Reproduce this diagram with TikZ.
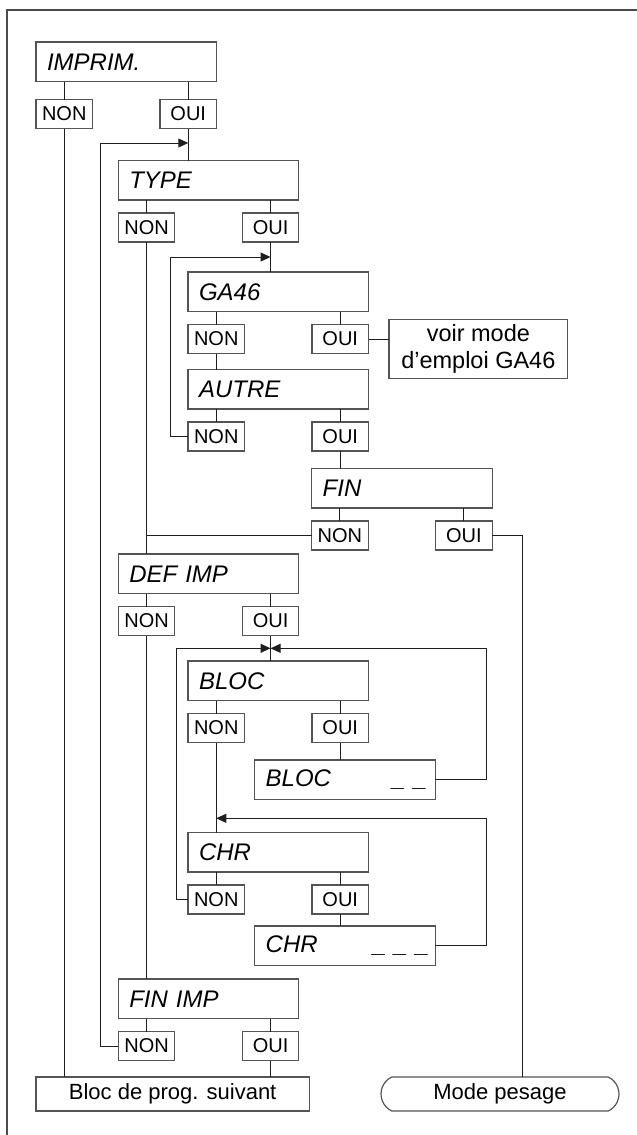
\documentclass[tikz,border=0pt]{standalone}
\usepackage{fontspec}
\setmainfont{Liberation Sans}
\usetikzlibrary{arrows.meta,shapes.misc}
\definecolor{boxc}{gray}{0.33}
\definecolor{linec}{gray}{0.12}
\definecolor{framec}{gray}{0.3}
\begin{document}
\begin{tikzpicture}[x=1pt,y=-1pt,
  box/.style={draw=boxc, line width=1.2pt, outer sep=0pt, anchor=north west},
  title/.style={box, minimum height=39.5pt, inner xsep=11pt, inner ysep=0pt, text width=158.5pt, align=left, font=\fontsize{24}{26}\selectfont\itshape},
  choice/.style={box, minimum width=56.5pt, minimum height=29pt, inner sep=0pt, font=\fontsize{20}{22}\selectfont},
  plain/.style={box, inner sep=0pt, align=center, font=\fontsize{22}{26}\selectfont},
  conn/.style={draw=linec, line width=1pt},
  arr/.style={conn, -{Triangle[length=10pt,width=9pt]}},
]
\useasboundingbox (0,0) rectangle (637,1135);
\draw[draw=framec, line width=1.5pt] (7,1135) -- (7,10) -- (637,10);

% title boxes
\node[title] (imprim) at (36,42) {IMPRIM.};
\node[title] (type) at (118.3,160.5) {TYPE};
\node[title] (ga46) at (188,272) {GA46};
\node[title] (autre) at (188,369.5) {AUTRE};
\node[title] (fin) at (311.7,468.5) {FIN};
\node[title] (defimp) at (118.3,554) {DEF IMP};
\node[title] (bloc) at (188,661) {BLOC};
\node[title] (blocv) at (254.7,760) {BLOC\hfill\_ \_\kern-3pt};
\node[title] (chr) at (188,832.5) {CHR};
\node[title] (chrv) at (254.7,926) {CHR\hfill\_ \_ \_\kern-5pt};
\node[title] (finimp) at (118.3,979) {FIN IMP};

% choice boxes
\node[choice] (imprimN) at ([yshift=-18pt]imprim.south west) {NON};
\node[choice, anchor=north east] (imprimO) at ([yshift=-18pt]imprim.south east) {OUI};
\node[choice] (typeN) at ([yshift=-13pt]type.south west) {NON};
\node[choice, anchor=north east] (typeO) at ([yshift=-13pt]type.south east) {OUI};
\node[choice] (ga46N) at ([yshift=-13pt]ga46.south west) {NON};
\node[choice, anchor=north east] (ga46O) at ([yshift=-13pt]ga46.south east) {OUI};
\node[choice] (autreN) at ([yshift=-13pt]autre.south west) {NON};
\node[choice, anchor=north east] (autreO) at ([yshift=-13pt]autre.south east) {OUI};
\node[choice] (finN) at ([yshift=-13pt]fin.south west) {NON};
\node[choice, anchor=north east] (finO) at ([yshift=-13pt]fin.south east) {OUI};
\node[choice] (defimpN) at ([yshift=-13pt]defimp.south west) {NON};
\node[choice, anchor=north east] (defimpO) at ([yshift=-13pt]defimp.south east) {OUI};
\node[choice] (blocN) at ([yshift=-13pt]bloc.south west) {NON};
\node[choice, anchor=north east] (blocO) at ([yshift=-13pt]bloc.south east) {OUI};
\node[choice] (chrN) at ([yshift=-13pt]chr.south west) {NON};
\node[choice, anchor=north east] (chrO) at ([yshift=-13pt]chr.south east) {OUI};
\node[choice] (finimpN) at ([yshift=-13pt]finimp.south west) {NON};
\node[choice, anchor=north east] (finimpO) at ([yshift=-13pt]finimp.south east) {OUI};

% other boxes
\node[plain, minimum width=178.7pt, minimum height=59pt, font=\fontsize{23.5}{27.7}\selectfont] (voir) at (389,319.3) {voir mode\\d'emploi GA46};
\node[plain, minimum width=273.3pt, minimum height=34pt] (suivant) at (36,1077) {Bloc de prog. suivant};
\node[draw=boxc, line width=1.2pt, outer sep=0pt, rounded rectangle, rounded rectangle arc length=130, minimum width=238pt, minimum height=34pt, inner sep=0pt, font=\fontsize{22}{26}\selectfont] (mode) at (500,1094) {Mode pesage};

% parent -> choice stubs
\foreach \p in {imprim,type,ga46,autre,fin,defimp,bloc,chr,finimp}{
  \draw[conn] (\p.south -| \p N) -- (\p N.north);
  \draw[conn] (\p.south -| \p O) -- (\p O.north);
}

% junction coordinates
\coordinate (jA) at (imprimO.south |- 0,143);
\coordinate (jB) at (typeO.south |- 0,257);
\coordinate (jC) at (defimpO.south |- 0,648.3);
\coordinate (jD) at (blocN.south |- 0,818.3);
\coordinate (mtop) at ([xshift=22.7pt]mode.north);

% main flow
\draw[conn] (imprimN.south) -- (imprimN.south |- suivant.north);
\draw[conn] (imprimO.south) -- (imprimO.south |- type.north);
\draw[arr] (finimpN.west) -| (100,143) -- (jA);

\draw[conn] (typeN.south) -- (typeN.south |- defimp.north);
\draw[conn] (typeO.south) -- (typeO.south |- ga46.north);
\draw[arr] (autreN.west) -| (170,257) -- (jB);
\draw[conn] (ga46N.south) -- (ga46N.south |- autre.north);
\draw[conn] (ga46O.east) -- (ga46O.east -| voir.west);
\draw[conn] (autreO.south) -- (autreO.south |- fin.north);
\draw[conn] (finN.west) -- (finN.west -| typeN.south);
\draw[conn] (finO.east) -| (mtop);

\draw[conn] (defimpN.south) -- (defimpN.south |- finimp.north);
\draw[conn] (defimpO.south) -- (defimpO.south |- bloc.north);
\draw[arr] (chrN.west) -| (176,648.3) -- (jC);
\draw[arr] (blocv.east) -| (486.7,648.3) -- (jC);
\draw[conn] (blocN.south) -- (blocN.south |- chr.north);
\draw[conn] (blocO.south) -- (blocO.south |- blocv.north);
\draw[arr] (chrv.east) -| (486.7,818.3) -- (jD);
\draw[conn] (chrO.south) -- (chrO.south |- chrv.north);
\draw[conn] (finimpO.south) -- (finimpO.south |- suivant.north);
\end{tikzpicture}
\end{document}
